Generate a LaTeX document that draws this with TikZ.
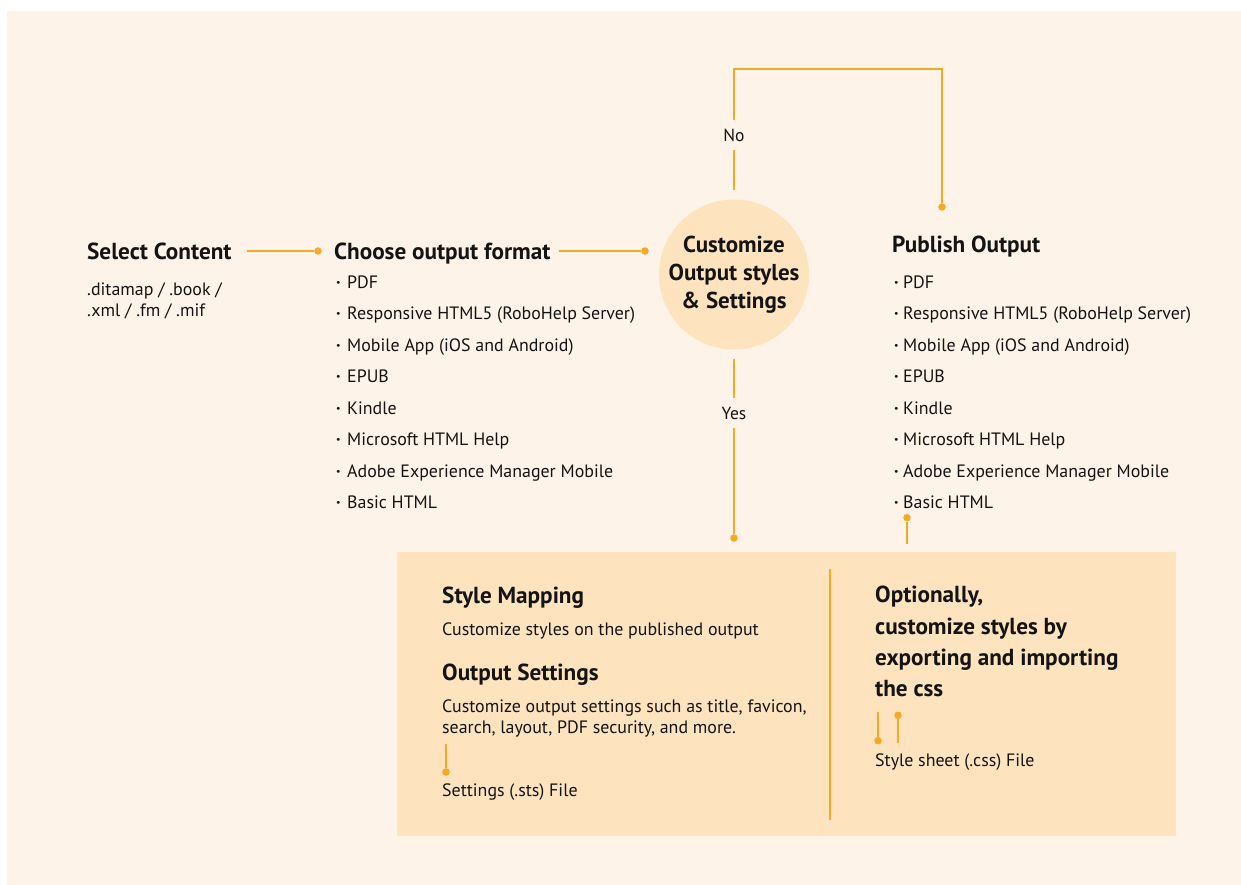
\documentclass[tikz,border=0pt]{standalone}
\usepackage{fontspec}
\setmainfont{PT Sans}
\usetikzlibrary{positioning}

\definecolor{cream}{RGB}{253,243,232}
\definecolor{peach}{RGB}{253,227,190}
\definecolor{amber}{RGB}{247,168,36}
\definecolor{ink}{RGB}{20,20,20}

\begin{document}
\begin{tikzpicture}[x=1pt, y=-1pt,
    title/.style={font=\fontsize{23.2}{27}\selectfont\bfseries, text=ink, anchor=base west, inner sep=0pt},
    body/.style={font=\fontsize{17.9}{21}\selectfont, text=ink, anchor=base west, inner sep=0pt},
    link/.style={amber, line width=2pt},
    tip/.style={circle, fill=amber, inner sep=0pt, minimum size=7.5pt},
    gap/.style={font=\fontsize{17.5}{20}\selectfont, text=ink, inner sep=0pt, minimum height=30pt, minimum width=26pt}]

    % Fondo
    \useasboundingbox (0,0) rectangle (1241,885);
    \fill[white] (0,0) rectangle (1241,885);
    \fill[cream] (7,11) rectangle (1241,885);

    % Caja inferior
    \node[fill=peach, inner sep=0pt, minimum width=779pt, minimum height=284pt] (box) at (786.5,693.7) {};
    \draw[amber, line width=1.6pt] (830,569) -- (830,820);

    % Paso 1: contenido
    \node[title] (select) at (87,259) {Select Content};
    \node[body] (ext1) at (87,295) {.ditamap / .book /};
    \node[body] (ext2) at (87,316) {.xml / .fm / .mif};

    % Paso 2: formato
    \node[title] (choose) at (334,259) {Choose output format};
    \foreach \item [count=\i from 0] in {PDF, Responsive HTML5 (RoboHelp Server), Mobile App (iOS and Android), EPUB, Kindle, Microsoft HTML Help, Adobe Experience Manager Mobile, Basic HTML} {
        \node[body] (cb\i) at (336,288+31.5*\i) {\textbf{·}};
        \node[body] (c\i) at (347,288+31.5*\i) {\item};
    }
    \node[tip] (d1) at (318,251) {};
    \draw[link] (select.east |- d1) ++(15,0) -- (d1);

    % Paso 3: personalizar
    \node[circle, fill=peach, minimum size=150pt, inner sep=0pt] (hub) at (734,274.5) {};
    \node[font=\fontsize{23}{28}\selectfont\bfseries, text=ink, align=center, inner sep=0pt] (hubtext) at (734,275) {Customize\\Output styles\\\& Settings};
    \node[tip] (d2) at (645,251) {};
    \draw[link] (choose.east |- d2) ++(8,0) -- (d2);

    % Paso 4: publicar
    \node[title] (publish) at (892,252) {Publish Output};
    \foreach \item [count=\i from 0] in {PDF, Responsive HTML5 (RoboHelp Server), Mobile App (iOS and Android), EPUB, Kindle, Microsoft HTML Help, Adobe Experience Manager Mobile, Basic HTML} {
        \node[body] (pb\i) at (894,288+31.5*\i) {\textbf{·}};
        \node[body] (p\i) at (903,288+31.5*\i) {\item};
    }

    % Rama No
    \node[gap] (no) at (734,135) {No};
    \node[tip] (d3) at (942,207) {};
    \draw[link] ([yshift=9pt]hub.north) -- (no.south);
    \draw[link] (no.north) -- ++(0,-51) -| (d3);

    % Rama Yes
    \node[gap] (yes) at (734,413) {Yes};
    \node[tip] (d4) at (734,538) {};
    \draw[link] ([yshift=-9pt]hub.south) -- (yes.north);
    \draw[link] (yes.south) -- (d4);

    % Basic HTML hacia la caja
    \node[tip] (d5) at (907,517.7) {};
    \draw[link] (d5) -- ++(0,26.5);

    % Panel izquierdo
    \node[title] (mapping) at (442,603) {Style Mapping};
    \node[body] (mapdesc) at (442,635) {Customize styles on the published output};
    \node[title] (settings) at (442,680) {Output Settings};
    \node[body] (setdesc1) at (442,712) {Customize output settings such as title, favicon,};
    \node[body] (setdesc2) at (442,733.5) {search, layout, PDF security, and more.};
    \node[tip] (d6) at (446,772) {};
    \draw[link] (d6) -- ++(0,-28);
    \node[body] (sts) at (442,796) {Settings (.sts) File};

    % Panel derecho
    \node[title] (opt1) at (875,602.7) {Optionally,};
    \node[title] (opt2) at (875,634) {customize styles by};
    \node[title] (opt3) at (875,665.3) {exporting and importing};
    \node[title] (opt4) at (875,696.7) {the css};
    \node[tip] (d7) at (878,740.7) {};
    \draw[link] (d7) -- ++(0,-28.7);
    \node[tip] (d8) at (898,715.3) {};
    \draw[link] (d8) -- ++(0,27.7);
    \node[body] (css) at (875,766.7) {Style sheet (.css) File};
\end{tikzpicture}
\end{document}
